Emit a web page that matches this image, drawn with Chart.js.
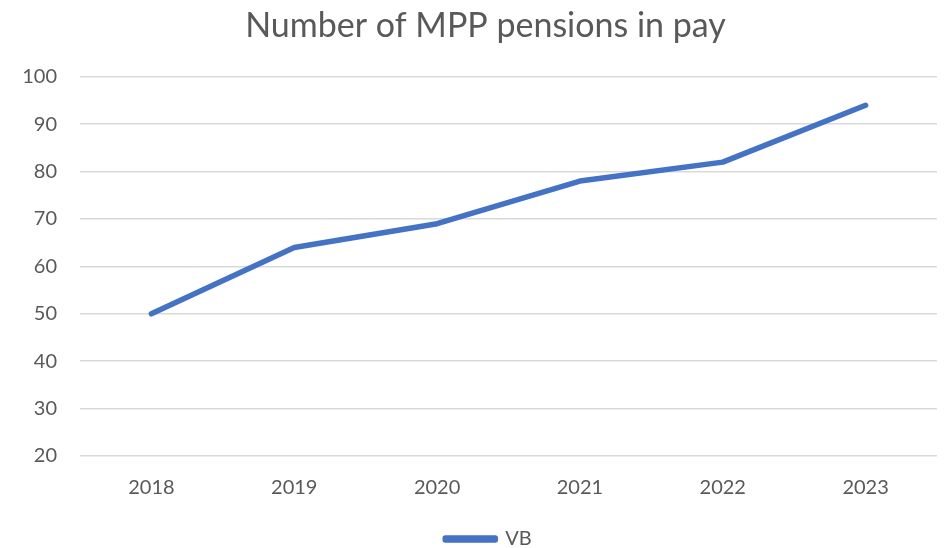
<!DOCTYPE html>
<html lang="en">
<head>
    <meta charset="UTF-8">
    <script src="https://cdn.jsdelivr.net/npm/chart.js"></script>
    <title>Number of MPP pensions in pay</title>
    <style>
        html, body { margin: 0; padding: 0; background: #fff; }
        .grafico { width: 945px; height: 548px; }
    </style>
</head>
<body>
    <div class="grafico">
        <canvas id="myChart"></canvas>
    </div>

<script>
    // data
    const anos = ['2018', '2019', '2020', '2021', '2022', '2023'];
    const pensoes = [50, 64, 69, 78, 82, 94];
    const serie = 'VB';
    const titulo = 'Number of MPP pensions in pay';

    const azul = '#4472C4';
    const cinza = '#595959';
    const fonte = 'Lato, "Open Sans", sans-serif';

    const data = {
        labels: anos,
        datasets: [{
            label: serie,
            data: pensoes,
            borderColor: azul,
            backgroundColor: azul,
            borderWidth: 5.5,
            borderCapStyle: 'round',
            borderJoinStyle: 'round',
            pointRadius: 0,
            tension: 0
        }]
    };

    // nudge title and legend after layout
    const ajuste = {
        id: 'ajuste',
        afterLayout(chart) {
            const t = chart.titleBlock;
            if (t) { t.left += 16; t.right += 16; }
            const l = chart.legend;
            if (l) { l.top += 11; l.bottom += 11; l.left += 19; l.right += 19; }
        }
    };

    const config = {
        type: 'line',
        data: data,
        plugins: [ajuste],
        options: {
            responsive: true,
            maintainAspectRatio: false,
            animation: false,
            layout: { padding: { left: 2, right: 8, top: 6, bottom: 0 } },
            plugins: {
                title: {
                    display: true,
                    text: titulo,
                    color: cinza,
                    font: { family: fonte, size: 34, weight: 'normal' },
                    padding: { top: 0, bottom: 30 }
                },
                legend: {
                    position: 'bottom',
                    labels: {
                        color: cinza,
                        font: { family: fonte, size: 20 },
                        boxWidth: 50,
                        boxHeight: 2,
                        padding: 0
                    }
                },
                tooltip: { enabled: false }
            },
            scales: {
                x: {
                    offset: true,
                    grid: { display: false },
                    border: { display: false },
                    ticks: { color: cinza, font: { family: fonte, size: 20 }, padding: 12 },
                    afterFit: (scale) => { scale.height = 62; }
                },
                y: {
                    min: 20,
                    max: 100,
                    ticks: { stepSize: 10, color: cinza, font: { family: fonte, size: 20 }, padding: 23 },
                    grid: { color: '#D9D9D9', lineWidth: 1.5, drawTicks: false },
                    border: { display: false },
                    afterFit: (scale) => { scale.width = 78; }
                }
            }
        }
    };

    const myChart = new Chart(document.getElementById('myChart'), config);
</script>
</body>
</html>
